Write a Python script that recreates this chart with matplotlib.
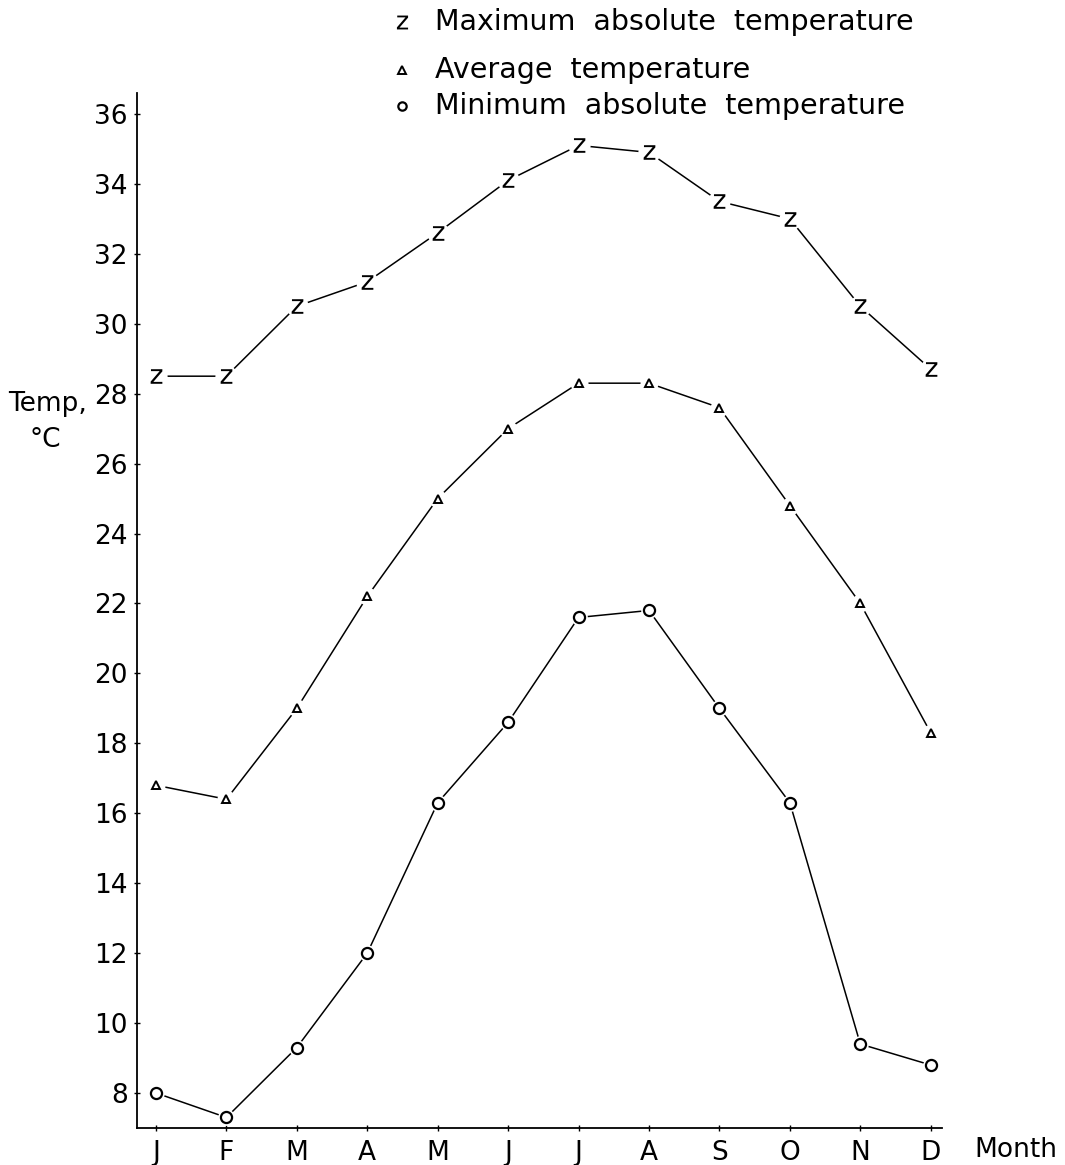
import matplotlib
matplotlib.use("Agg")
import matplotlib.pyplot as plt
from matplotlib.lines import Line2D

months = ["J", "F", "M", "A", "M", "J", "J", "A", "S", "O", "N", "D"]
t_max = [28.5, 28.5, 30.5, 31.2, 32.6, 34.1, 35.1, 34.9, 33.5, 33.0, 30.5, 28.7]
t_avg = [16.8, 16.4, 19.0, 22.2, 25.0, 27.0, 28.3, 28.3, 27.6, 24.8, 22.0, 18.3]
t_min = [8.0, 7.3, 9.3, 12.0, 16.3, 18.6, 21.6, 21.8, 19.0, 16.3, 9.4, 8.8]
y_ticks = list(range(8, 37, 2))

plt.rcParams['font.family'] = ['DejaVu Sans']
fs = 19

fig = plt.figure(figsize=(10.65, 11.65), dpi=100)
ax = fig.add_axes([0.1286, 0.0318, 0.7559, 0.8884])
x = list(range(len(months)))

Z = r"$\mathsf{z}$"

def series(vals, marker, ms, mew, gap, face="white"):
    ax.plot(x, vals, color="black", lw=1.1, zorder=2)
    # white blobs leave a small gap between line and marker
    ax.plot(x, vals, ls="none", marker="o", ms=gap, mfc="white",
            mec="white", mew=0, zorder=3)
    ax.plot(x, vals, ls="none", marker=marker, ms=ms, mfc=face,
            mec="black", mew=mew, zorder=4)

series(t_max, Z, 10.5, 0, 16, face="black")
series(t_avg, "^", 6, 1.4, 13)
series(t_min, "o", 8, 1.6, 12)

ax.set_xlim(-0.27, 11.16)
ax.set_ylim(7.0, 36.6)
ax.set_xticks(x)
ax.set_xticklabels(months)
ax.set_yticks(y_ticks)
ax.tick_params(axis="both", direction="inout", length=5, width=1,
               labelsize=fs)
ax.tick_params(axis="y", pad=4)
ax.tick_params(axis="x", pad=6)
for s in ["top", "right"]:
    ax.spines[s].set_visible(False)
for s in ["left", "bottom"]:
    ax.spines[s].set_linewidth(1.3)

fig.text(0.008, 0.653, "Temp,", fontsize=fs, ha="left", va="center")
fig.text(0.028, 0.622, "°C", fontsize=fs, ha="left", va="center")
fig.text(0.915, 0.013, "Month", fontsize=fs, ha="left", va="center")

# key at the top
key = [
    (Z, 10, 0, "black", "Maximum  absolute  temperature", 0.981),
    ("^", 6, 1.4, "white", "Average  temperature", 0.940),
    ("o", 6, 1.6, "white", "Minimum  absolute  temperature", 0.909),
]
for mk, ms, mew, face, label, yy in key:
    fig.add_artist(Line2D([0.377], [yy], marker=mk, ms=ms, mew=mew,
                          mfc=face, mec="black", ls="none",
                          transform=fig.transFigure))
    fig.text(0.408, yy, label, fontsize=20.5, ha="left", va="center")

fig.savefig("out.png", dpi=100, facecolor="white")
